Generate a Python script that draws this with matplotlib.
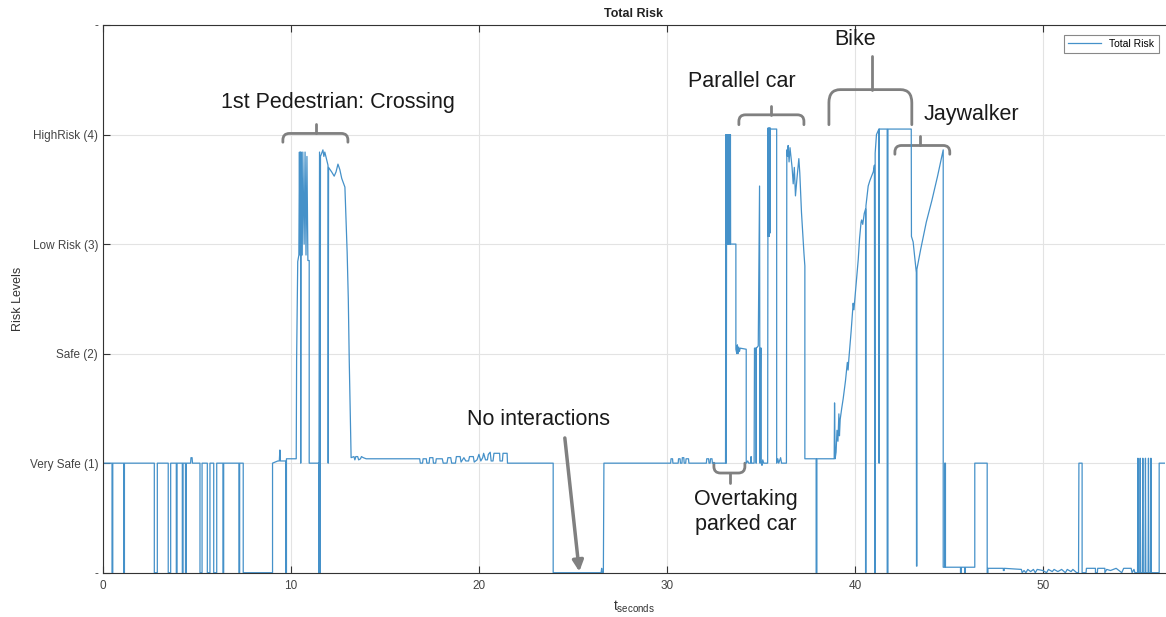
# Total Risk over time (reproduction)

import numpy as np
import matplotlib
matplotlib.use("Agg")
import matplotlib.pyplot as plt
from matplotlib.path import Path
from matplotlib.patches import PathPatch

plt.rcParams['font.family'] = ['Liberation Sans', 'DejaVu Sans']
plt.rcParams['mathtext.default'] = 'regular'

# --- data ---
# idle part with dropouts
t_a = [0.0, 0.48, 0.48, 0.52, 0.52, 1.10, 1.10, 1.14, 1.14, 2.73, 2.73, 2.89, 2.89,
       3.47, 3.47, 3.60, 3.60, 3.90, 3.90, 3.94, 3.94, 4.22, 4.22, 4.26, 4.26,
       4.39, 4.39, 4.43, 4.43, 4.66, 4.68, 4.74, 4.76, 5.16, 5.16, 5.27, 5.27,
       5.55, 5.55, 5.69, 5.69, 5.89, 5.89, 6.05, 6.05, 6.38, 6.38, 6.42, 6.42,
       7.23, 7.23, 7.27, 7.27, 7.46, 7.46, 9.02]
r_a = [1, 1, 0, 0, 1, 1, 0, 0, 1, 1, 0, 0, 1, 1, 0, 0, 1, 1, 0, 0, 1, 1, 0, 0, 1,
       1, 0, 0, 1, 1, 1.05, 1.05, 1, 1, 0, 0, 1, 1, 0, 0, 1, 1, 0, 0, 1, 1, 0, 0, 1,
       1, 0, 0, 1, 1, 0, 0]

# 1st pedestrian crossing
t_b = [9.02, 9.30, 9.38, 9.41, 9.44, 9.72, 9.72, 9.76, 9.76, 10.28, 10.30, 10.36,
       10.42, 10.45, 10.48, 10.51, 10.52, 10.54, 10.60, 10.63, 10.70, 10.75, 10.80,
       10.85, 10.90, 10.97, 10.97, 11.48, 11.48, 11.52, 11.55, 11.57, 11.70, 11.75,
       11.80, 11.97, 11.98, 12.00, 12.16, 12.30, 12.40, 12.50, 12.60, 12.70, 12.87,
       12.99, 13.05, 13.10, 13.20]
r_b = [1.0, 1.02, 1.02, 1.12, 1.02, 1.02, 0, 0, 1.04, 1.04, 1.94, 2.84, 2.9, 3.84,
       2.9, 3.84, 1.0, 3.84, 2.9, 3.84, 3.0, 3.84, 2.9, 3.8, 2.85, 2.85, 1.0, 1.0,
       0, 3.84, 0, 3.8, 3.86, 3.8, 3.84, 3.72, 1.0, 3.7, 3.66, 3.62, 3.66, 3.73,
       3.68, 3.6, 3.52, 2.92, 2.5, 1.94, 1.05]

# quiet driving
t_c = [13.35, 13.40, 13.45, 13.55, 13.60, 13.70, 13.75, 13.85, 14.00, 16.85, 16.88,
       17.00, 17.03, 17.20, 17.23, 17.35, 17.38, 17.55, 17.58, 17.70, 17.73, 17.90,
       18.05, 18.10, 18.30, 18.35, 18.50, 18.55, 18.75, 18.80, 19.00, 19.05, 19.20,
       19.30, 19.45, 19.50, 19.70, 19.75, 19.90, 20.00, 20.10, 20.20, 20.25, 20.35,
       20.45, 20.50, 20.60, 20.65, 20.75, 20.80, 21.00, 21.10, 21.12, 21.25, 21.28,
       21.50, 21.52]
r_c = [1.06, 1.03, 1.06, 1.06, 1.03, 1.04, 1.06, 1.05, 1.04, 1.04, 1.0, 1.0, 1.04,
       1.04, 1.0, 1.0, 1.05, 1.05, 1.0, 1.0, 1.04, 1.04, 1.04, 1.0, 1.0, 1.05, 1.05,
       1.0, 1.0, 1.06, 1.06, 1.01, 1.05, 1.02, 1.02, 1.06, 1.06, 1.01, 1.03, 1.08,
       1.02, 1.05, 1.09, 1.03, 1.03, 1.08, 1.1, 1.02, 1.02, 1.09, 1.09, 1.09, 1.02,
       1.02, 1.09, 1.09, 1.0]

# no interactions gap
t_d = [23.95, 23.95, 26.50, 26.53, 26.56, 26.62, 26.65, 30.20, 30.22, 30.30, 30.32,
       30.60, 30.62, 30.70, 30.72, 30.80, 30.82, 30.90, 30.92, 31.00, 31.02, 31.15,
       31.17, 32.10, 32.12, 32.22, 32.24, 32.30, 32.32, 32.40, 32.42, 33.12]
r_d = [1.0, 0.0, 0.0, 0.04, 0.0, 0.0, 1.0, 1.0, 1.04, 1.04, 1.0, 1.0, 1.04, 1.04,
       1.0, 1.0, 1.05, 1.05, 1.0, 1.0, 1.04, 1.04, 1.0, 1.0, 1.04, 1.04, 1.0, 1.0,
       1.04, 1.04, 1.0, 1.0]

# overtaking parked car / parallel car
t_e = [33.14, 33.16, 33.18, 33.20, 33.22, 33.24, 33.26, 33.28, 33.30, 33.32, 33.34,
       33.36, 33.38, 33.39, 33.67, 33.67, 33.72, 33.75, 33.78, 33.82, 33.86, 33.90,
       34.22, 34.22, 34.30, 34.35, 34.45, 34.48, 34.50, 34.64, 34.66, 34.74, 34.74,
       34.76, 34.76, 34.86, 34.89, 34.93, 34.95, 34.98, 35.02, 35.02, 35.06, 35.10,
       35.15, 35.36, 35.38, 35.40, 35.42, 35.44, 35.46, 35.48, 35.50, 35.52, 35.84,
       35.84, 35.90, 35.95, 36.05, 36.10, 36.36, 36.38, 36.42, 36.45, 36.50, 36.55,
       36.60, 36.66, 36.72, 36.78, 36.84, 36.92, 37.02, 37.07, 37.16, 37.29, 37.34,
       37.34, 37.94, 37.94, 37.98, 37.98]
r_e = [4.0, 1.0, 4.0, 3.0, 4.0, 3.0, 4.0, 3.0, 4.0, 3.0, 4.0, 3.0, 4.0, 3.0, 3.0,
       2.04, 2.0, 2.08, 2.0, 2.06, 2.02, 2.05, 2.04, 1.0, 1.02, 1.0, 1.0, 1.06, 1.0,
       1.0, 2.05, 2.05, 1.0, 1.0, 2.05, 2.07, 2.67, 3.53, 1.0, 2.05, 2.05, 1.0, 0.98,
       1.03, 1.0, 1.0, 4.06, 3.07, 4.06, 3.07, 4.06, 3.1, 4.06, 4.05, 4.05, 1.0,
       1.04, 1.0, 1.05, 1.0, 1.0, 3.86, 3.8, 3.9, 3.75, 3.88, 3.8, 3.7, 3.55, 3.7,
       3.44, 3.6, 3.78, 3.65, 3.29, 2.92, 2.8, 1.04, 1.04, 0.0, 0.0, 1.04]

# bike and jaywalker
t_f = [38.90, 38.92, 38.95, 39.00, 39.05, 39.10, 39.15, 39.18, 39.22, 39.30, 39.38,
       39.50, 39.60, 39.64, 39.68, 39.80, 39.91, 39.95, 40.00, 40.10, 40.18, 40.25,
       40.33, 40.36, 40.42, 40.50, 40.57, 40.57, 40.59, 40.59, 40.71, 40.80, 40.89,
       40.98, 41.04, 41.06, 41.08, 41.08, 41.15, 41.28, 41.28, 41.30, 41.30, 41.72,
       41.72, 41.76, 41.76, 43.00, 43.01, 43.10, 43.20, 43.27, 43.28, 43.30, 43.30,
       43.50, 43.80, 44.10, 44.40, 44.70, 44.70, 44.78, 44.78, 44.82, 44.82]
r_f = [1.04, 1.55, 1.04, 1.1, 1.3, 1.2, 1.45, 1.25, 1.4, 1.5, 1.59, 1.75, 1.92,
       1.85, 1.95, 2.2, 2.46, 2.4, 2.5, 2.7, 2.86, 3.05, 3.2, 3.22, 3.18, 3.28,
       3.32, 0.0, 0.0, 3.35, 3.53, 3.58, 3.62, 3.66, 3.72, 0.0, 0.0, 3.83, 4.0,
       4.05, 1.0, 1.0, 4.05, 4.05, 0.0, 0.0, 4.05, 4.05, 3.07, 3.02, 2.85, 2.74,
       0.06, 0.06, 2.77, 2.95, 3.2, 3.4, 3.62, 3.86, 0.05, 0.05, 1.0, 1.0, 0.05]

# tail
t_g = [45.62, 45.62, 45.66, 45.66, 45.84, 45.84, 45.88, 45.88, 46.38, 46.38, 47.04,
       47.04, 47.08, 47.08, 47.90, 47.90, 47.95, 47.95, 48.86, 48.90, 49.00, 49.10,
       49.20, 49.35, 49.50, 49.60, 49.70, 50.00, 50.20, 50.30, 50.50, 50.60, 50.80,
       51.00, 51.20, 51.30, 51.50, 51.60, 51.80, 51.90, 51.92, 52.09, 52.09, 52.30,
       52.32, 52.80, 52.80, 52.90, 52.92, 53.30, 53.30, 53.40, 53.60, 53.90, 54.20,
       54.30, 54.70, 54.75, 54.85, 54.90, 55.04, 55.06, 55.08, 55.16, 55.18, 55.20,
       55.30, 55.32, 55.34, 55.44, 55.46, 55.48, 55.60, 55.62, 55.64, 55.73, 55.75,
       55.77, 56.19, 56.19, 56.50]
r_g = [0.05, 0.0, 0.0, 0.05, 0.05, 0.0, 0.0, 0.05, 0.05, 1.0, 1.0, 0.0, 0.0, 0.04,
       0.04, 0.02, 0.02, 0.04, 0.03, 0.0, 0.02, 0.0, 0.03, 0.01, 0.03, 0.0, 0.03,
       0.02, 0.0, 0.03, 0.01, 0.03, 0.01, 0.03, 0.0, 0.03, 0.01, 0.03, 0.0, 0.0, 1.0,
       1.0, 0.0, 0.0, 0.04, 0.04, 0.0, 0.0, 0.04, 0.04, 0.0, 0.03, 0.02, 0.04, 0.0,
       0.04, 0.04, 0.0, 0.03, 0.0, 0.0, 1.045, 0.0, 0.0, 1.045, 0.0, 0.0, 1.045,
       0.0, 0.0, 1.045, 0.0, 0.0, 1.045, 0.0, 0.0, 1.045, 0.0, 0.0, 1.0, 1.0]

y_ticks = [0, 1, 2, 3, 4, 5]
y_labels = ['-', 'Very Safe (1)', 'Safe (2)', 'Low Risk (3)', 'HighRisk (4)', '-']

t = np.concatenate([t_a, t_b, t_c, t_d, t_e, t_f, t_g])
risk = np.concatenate([r_a, r_b, r_c, r_d, r_e, r_f, r_g])

# --- figure ---
fig = plt.figure(figsize=(11.66, 6.17), dpi=100)
W, H = 1166, 617
ax = fig.add_axes([103 / W, 1 - 572.7 / H, (1165 - 103) / W, (572.7 - 25) / H])

ax.plot(t, risk, color='#4591c9', lw=0.9, label='Total Risk')

ax.set_xlim(0, 56.5)
ax.set_ylim(0, 5)
ax.set_xticks([0, 10, 20, 30, 40, 50])
ax.set_yticks(y_ticks)
ax.set_yticklabels(y_labels)
ax.grid(True, color='#e3e3e3', lw=0.8)
ax.set_axisbelow(True)
ax.tick_params(direction='in', length=5, width=0.8, colors='#333333',
               labelsize=8.5, top=True, right=False, labelcolor='#444444')
ax.tick_params(axis='x', pad=5)
for s in ['left', 'top', 'bottom']:
    ax.spines[s].set_color('#333333')
    ax.spines[s].set_linewidth(0.8)
ax.spines['right'].set_visible(False)

ax.set_title('Total Risk', fontsize=9, fontweight='bold', color='#222222', pad=6)
ax.set_xlabel(r'$t_{seconds}$', fontsize=10, color='#333333', labelpad=5)
ax.set_ylabel('Risk Levels', fontsize=9, color='#333333', labelpad=4)

leg = ax.legend(loc='upper right', bbox_to_anchor=(0.994, 0.982), borderaxespad=0,
                fontsize=7.5, handlelength=3.2, fancybox=False, framealpha=1)
leg.get_frame().set_edgecolor('#888888')
leg.get_frame().set_linewidth(0.8)

# --- annotations ---
gray = '#808080'


def bracket(x0, x1, xc, yh, yend, ytip, rx=0.35, ry=0.06):
    # brace: horizontal bar at yh, ends bend toward yend, tick at xc to ytip
    sgn = 1 if yend < yh else -1
    verts = [(x0, yend), (x0, yh - sgn * ry), (x0, yh), (x0 + rx, yh),
             (x1 - rx, yh), (x1, yh), (x1, yh - sgn * ry), (x1, yend)]
    codes = [Path.MOVETO, Path.LINETO, Path.CURVE3, Path.CURVE3,
             Path.LINETO, Path.CURVE3, Path.CURVE3, Path.LINETO]
    ax.add_patch(PathPatch(Path(verts, codes), fill=False, ec=gray, lw=2.0,
                           clip_on=False, capstyle='round', joinstyle='round'))
    ax.plot([xc, xc], [yh, ytip], color=gray, lw=2.0, clip_on=False,
            solid_capstyle='round')


bracket(9.57, 13.03, 11.33, 4.01, 3.93, 4.10)
bracket(33.83, 37.29, 35.53, 4.18, 4.09, 4.26)
bracket(38.62, 43.03, 40.90, 4.41, 4.09, 4.72, rx=0.6, ry=0.12)
bracket(42.13, 45.05, 43.45, 3.90, 3.82, 3.99)
bracket(32.50, 34.15, 33.35, 0.91, 1.00, 0.82)

ax.annotate('', xy=(25.34, 0.01), xytext=(24.57, 1.23),
            arrowprops=dict(arrowstyle='-|>', color=gray, lw=2.5, mutation_scale=16,
                            shrinkA=0, shrinkB=0), annotation_clip=False)

txt = dict(fontsize=15.5, color='#1a1a1a', ha='center', va='center', clip_on=False)
ax.text(12.5, 4.29, '1st Pedestrian: Crossing', **txt)
ax.text(33.99, 4.48, 'Parallel car', **txt)
ax.text(40.0, 4.87, 'Bike', **txt)
ax.text(46.22, 4.18, 'Jaywalker', **txt)
ax.text(23.19, 1.40, 'No interactions', **txt)
ax.text(34.2, 0.555, 'Overtaking\nparked car', linespacing=1.25, **txt)

fig.savefig('out.png', dpi=100)
